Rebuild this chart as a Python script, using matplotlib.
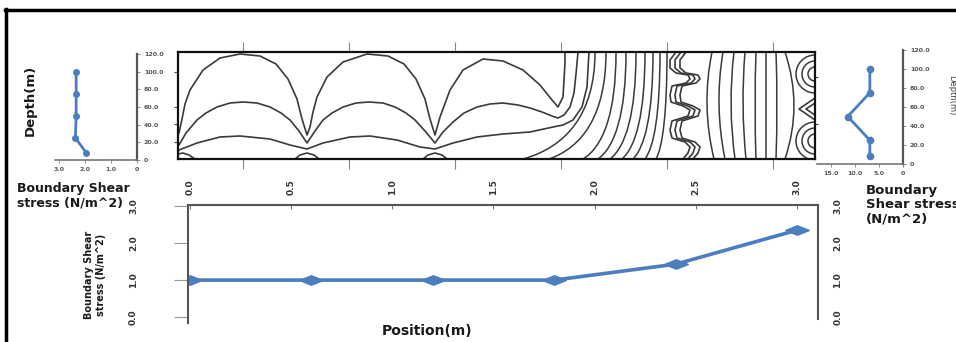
import matplotlib
matplotlib.use("Agg")
import matplotlib.pyplot as plt
from matplotlib.path import Path
from matplotlib.patches import PathPatch, Arc
from matplotlib.lines import Line2D

# ---------------------------------------------------------------- data
# Depth profiles of boundary shear stress at the two ends of the reach
profile_depth = [100, 75, 50, 25, 8]
shear_left = [2.33, 2.33, 2.33, 2.36, 1.94]
shear_right = [6.9, 6.9, 11.5, 6.9, 6.9]
depth_ticks = [0, 20, 40, 60, 80, 100, 120]
depth_labels = ["0", "20.0", "40.0", "60.0", "80.0", "100.0", "120.0"]
left_shear_ticks = [3, 2, 1, 0]
left_shear_labels = ["3.0", "2.0", "1.0", "0"]
right_shear_ticks = [15, 10, 5, 0]
right_shear_labels = ["15.0", "10.0", "5.0", "0"]

# Bed shear stress along the reach
position = [0.0, 0.6, 1.2, 1.8, 2.4, 3.0]
bed_shear = [1.0, 1.0, 1.0, 1.0, 1.43, 2.35]
position_ticks = [0.0, 0.5, 1.0, 1.5, 2.0, 2.5, 3.0]
position_labels = ["0.0", "0.5", "1.0", "1.5", "2.0", "2.5", "3.0"]
bed_shear_ticks = [0, 1, 2, 3]
bed_shear_labels = ["0.0", "1.0", "2.0", "3.0"]

# Contour section (position in cm, height above bed in cm)
arch_top = [(1, 26), (4, 40), (7, 55), (12, 69), (25, 89), (42, 101), (62, 105),
            (82, 103), (98, 95), (110, 80), (119, 60), (124, 40), (129, 24),
            (132, 32), (135, 47), (139, 62), (149, 82), (165, 97), (189, 105),
            (210, 103), (226, 95), (238, 80), (247, 60), (252, 40), (257, 24),
            (262, 42), (272, 69), (285, 89), (305, 100), (325, 98), (345, 89),
            (362, 74), (374, 59), (380, 52), (385, 62), (387, 96), (387, 107)]
arch_mid = [(1, 14), (8, 26), (19, 39), (28, 46), (39, 52), (52, 56), (65, 57),
            (79, 56), (92, 52), (103, 46), (112, 39), (121, 28), (129, 16),
            (137, 28), (145, 39), (154, 46), (165, 52), (178, 56), (191, 57),
            (205, 56), (217, 52), (228, 46), (237, 39), (247, 28), (257, 16),
            (265, 27), (275, 37), (286, 46), (299, 52), (312, 55), (325, 56),
            (340, 54), (352, 51), (364, 47), (374, 43), (380, 41), (386, 44),
            (392, 52), (396, 66), (398, 85), (400, 107)]
arch_low = [(1, 9), (19, 16), (42, 22), (62, 23), (92, 20), (112, 14), (129, 10),
            (145, 16), (172, 22), (192, 23), (219, 19), (242, 12), (257, 10),
            (275, 16), (299, 22), (325, 25), (352, 27), (375, 32), (385, 34),
            (395, 39), (404, 52), (409, 72), (411, 107)]
bed_domes = [
    [(0, 5), (5, 6), (11, 4), (17, 0)],
    [(117, 0), (122, 4), (129, 6), (136, 4), (141, 0)],
    [(245, 0), (250, 4), (257, 6), (264, 4), (269, 0)],
]
bend_top_x = [417, 428, 438, 448, 458, 467, 475, 482, 489]
bend_bottom_x = [345, 371, 405, 420, 432, 444, 455, 467, 478]
wavy_lines = [
    [(498, 107), (492, 99), (492, 91), (498, 86), (510, 84), (512, 80), (508, 76),
     (494, 73), (492, 64), (493, 57), (505, 53), (512, 49), (510, 43), (494, 38),
     (492, 29), (494, 21), (507, 17), (512, 12), (510, 6), (505, 0)],
    [(503, 107), (497, 99), (497, 91), (503, 86), (515, 84), (517, 80), (513, 76),
     (499, 73), (497, 64), (498, 57), (510, 53), (517, 49), (515, 43), (499, 38),
     (497, 29), (499, 21), (512, 17), (517, 12), (515, 6), (510, 0)],
    [(508, 107), (502, 99), (502, 91), (508, 86), (520, 84), (522, 80), (518, 76),
     (504, 73), (502, 64), (503, 57), (515, 53), (522, 49), (520, 43), (504, 38),
     (502, 29), (504, 21), (517, 17), (522, 12), (520, 6), (515, 0)],
]
bow_top_x = [534, 545, 556, 567, 578, 588, 598, 607]
bow_mid_x = [529, 541, 553, 565, 577, 588, 599, 616]
bow_bottom_x = [536, 547, 557, 568, 578, 588, 598, 607]
edge_arc_centres = [85, 18]
edge_arc_radii = [7, 13, 19]
edge_chevrons = [
    [(637, 61), (621, 50), (637, 39)],
    [(637, 56), (628, 50), (637, 44)],
]
section_length = 637
section_height = 107

# ---------------------------------------------------------------- layout
W, H = 956, 342
fig = plt.figure(figsize=(W / 100, H / 100), dpi=100)
plt.rcParams["font.family"] = ["DejaVu Sans"]


def rect(x0, y0, x1, y1):
    return [x0 / W, 1 - y1 / H, (x1 - x0) / W, (y1 - y0) / H]


BLUE = "#4a7ebf"
INK = "#3a3a3a"
TICK_TXT = dict(fontsize=4.5, color="#555555", fontweight="bold")

# ---------------------------------------------------------------- contour section
ax = fig.add_axes(rect(178, 52, 815, 159))
ax.set_xlim(0, section_length)
ax.set_ylim(0, section_height)
for s in ax.spines.values():
    s.set_linewidth(1.6)
    s.set_color("#111111")

line_kw = dict(color=INK, lw=1.2, solid_capstyle="round", solid_joinstyle="round")
for curve in [arch_top, arch_mid, arch_low] + bed_domes + wavy_lines:
    xs, zs = zip(*curve)
    ax.plot(xs, zs, **line_kw)

for xt, xb in zip(bend_top_x, bend_bottom_x):
    verts = [(xt, section_height), (xt, 45), (xb + 0.6 * (xt - xb), 12), (xb, 0)]
    path = Path(verts, [Path.MOVETO, Path.CURVE4, Path.CURVE4, Path.CURVE4])
    ax.add_patch(PathPatch(path, fill=False, color=INK, lw=1.1))

for xt, xm, xb in zip(bow_top_x, bow_mid_x, bow_bottom_x):
    ctrl = (2 * xm - (xt + xb) / 2, section_height / 2)
    path = Path([(xt, section_height), ctrl, (xb, 0)],
                [Path.MOVETO, Path.CURVE3, Path.CURVE3])
    ax.add_patch(PathPatch(path, fill=False, color=INK, lw=1.1))

for zc in edge_arc_centres:
    for r in edge_arc_radii:
        ax.add_patch(Arc((section_length, zc), 2 * r, 2 * r, theta1=90, theta2=270,
                         color=INK, lw=1.1))
for chev in edge_chevrons:
    xs, zs = zip(*chev)
    ax.plot(xs, zs, **line_kw)

ax.set_xticks([65, 171, 277, 383, 489, 595])
ax.set_yticks([87, 52, 35, 17])
ax.tick_params(axis="x", which="both", top=True, bottom=True, direction="out",
               length=7.5, width=0.8, color="#888888", labelbottom=False,
               labeltop=False)
ax.tick_params(axis="y", left=True, right=False, direction="out", length=3,
               width=0.8, color="#444444", labelleft=False)
sec = ax.secondary_yaxis("right")
sec.set_yticks([82, 35])
sec.tick_params(length=2.5, width=0.8, color="#444444", labelright=False)
sec.spines["right"].set_visible(False)

# ---------------------------------------------------------------- left profile
axl = fig.add_axes(rect(55, 54, 137, 160))
axl.plot(shear_left, profile_depth, color=BLUE, lw=2, marker="o", ms=4)
axl.set_xlim(3.14, 0)
axl.set_ylim(0, 120)
axl.spines["left"].set_visible(False)
axl.spines["top"].set_visible(False)
axl.spines["right"].set_color("#555555")
axl.spines["right"].set_linewidth(1.6)
axl.spines["bottom"].set_color("#777777")
axl.spines["bottom"].set_linewidth(1.2)
axl.yaxis.tick_right()
axl.set_yticks(depth_ticks)
axl.set_yticklabels(depth_labels, **TICK_TXT)
axl.set_xticks(left_shear_ticks)
axl.set_xticklabels(left_shear_labels, **TICK_TXT)
axl.tick_params(length=2, width=0.6, color="#777777", pad=3)
axl.patch.set_alpha(0)

# ---------------------------------------------------------------- right profile
axr = fig.add_axes(rect(817, 50, 903, 164))
axr.plot(shear_right, profile_depth, color=BLUE, lw=2, marker="o", ms=4.5)
axr.set_xlim(17.9, 0)
axr.set_ylim(0, 120)
axr.spines["left"].set_visible(False)
axr.spines["top"].set_visible(False)
axr.spines["right"].set_color("#555555")
axr.spines["right"].set_linewidth(1.6)
axr.spines["bottom"].set_color("#777777")
axr.spines["bottom"].set_linewidth(1.2)
axr.yaxis.tick_right()
axr.set_yticks(depth_ticks)
axr.set_yticklabels(depth_labels, **TICK_TXT)
axr.set_xticks(right_shear_ticks)
axr.set_xticklabels(right_shear_labels, **TICK_TXT)
axr.tick_params(length=2, width=0.6, color="#777777", pad=3)
axr.patch.set_alpha(0)

# ---------------------------------------------------------------- bed shear along reach
axb = fig.add_axes(rect(188, 205, 818, 323))
diamond = Path([(-1, 0), (0, 0.4), (1, 0), (0, -0.4), (-1, 0)],
               [Path.MOVETO, Path.LINETO, Path.LINETO, Path.LINETO, Path.CLOSEPOLY])
axb.plot(position, bed_shear, color=BLUE, lw=2.6, marker=diamond, ms=17,
         mec=BLUE, mfc=BLUE)
axb.set_xlim(-0.01, 3.104)
axb.set_ylim(-0.16, 3.03)
axb.spines["bottom"].set_visible(False)
for side in ["left", "top", "right"]:
    axb.spines[side].set_color("#555555")
    axb.spines[side].set_linewidth(1.5)
axb.spines["right"].set_bounds(-0.05, 3.03)
axb.xaxis.tick_top()
axb.set_xticks(position_ticks)
axb.set_xticklabels(position_labels, rotation=90, fontsize=6.5,
                    fontweight="bold", color="#333333", va="bottom")
axb.tick_params(axis="x", direction="in", length=3, width=0.8,
                color="#777777", pad=7)

tick_font = dict(rotation=90, fontsize=6.5, fontweight="bold", color="#333333",
                 va="center")
axb.set_yticks(bed_shear_ticks)
axb.set_yticklabels(bed_shear_labels, **tick_font)
axb.tick_params(axis="y", left=True, right=False, labelleft=True,
                labelright=False, direction="out", length=10, width=0.8,
                color="#999999", pad=26)
axb_right = axb.secondary_yaxis("right")
axb_right.set_yticks(bed_shear_ticks)
axb_right.set_yticklabels(bed_shear_labels, **tick_font)
axb_right.tick_params(length=0, pad=11)
axb_right.spines["right"].set_visible(False)
axb.patch.set_alpha(0)

# ---------------------------------------------------------------- text
bold = dict(fontweight="bold", color="#1a1a1a")
fig.text(30 / W, 1 - 100 / H, "Depth(m)", rotation=90, ha="center",
         va="center", fontsize=9.5, **bold)
fig.text(17 / W, 1 - 182 / H, "Boundary Shear\nstress (N/m^2)", ha="left",
         va="top", fontsize=9, linespacing=1.2, **bold)
fig.text(866 / W, 1 - 184 / H, "Boundary\nShear stress\n(N/m^2)", ha="left",
         va="top", fontsize=9.5, linespacing=1.15, **bold)
fig.text(952 / W, 1 - 95 / H, "Depth(m)", rotation=270, ha="center",
         va="center", fontsize=6, color="#444444")
fig.text(427 / W, 1 - 331 / H, "Position(m)", ha="center", va="center",
         fontsize=10, **bold)
fig.text(95 / W, 1 - 275 / H, "Boundary Shear\nstress (N/m^2)", rotation=90,
         ha="center", va="center", fontsize=7, linespacing=1.3, **bold)

# ---------------------------------------------------------------- frame
fig.add_artist(Line2D([5.5 / W, 5.5 / W], [0, 1 - 9 / H], transform=fig.transFigure,
                      color="black", lw=2.5))
fig.add_artist(Line2D([4.5 / W, 1], [1 - 10 / H, 1 - 10 / H],
                      transform=fig.transFigure, color="black", lw=2.5))

fig.savefig("out.png", dpi=100)
